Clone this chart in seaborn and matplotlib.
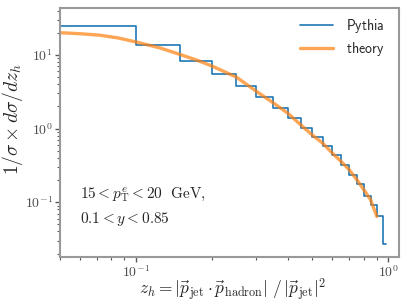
import matplotlib
matplotlib.use("Agg")
import matplotlib.pyplot as plt
from matplotlib.ticker import FuncFormatter
import numpy as np
import seaborn as sns

# Pythia histogram: bin edges and per-bin values
bin_edges = [0.05, 0.1, 0.15, 0.2, 0.25, 0.3, 0.35, 0.4, 0.45, 0.5,
             0.55, 0.6, 0.65, 0.7, 0.75, 0.8, 0.85, 0.9, 0.95, 0.975]
pythia = [25.0, 13.8, 8.35, 5.58, 3.75, 2.69, 1.89, 1.40, 1.02, 0.776,
          0.58, 0.435, 0.321, 0.231, 0.177, 0.123, 0.0918, 0.0643, 0.0273]

# theory curve
z_theory = [0.05, 0.06, 0.072, 0.085, 0.1, 0.125, 0.15, 0.175, 0.2, 0.25,
            0.3, 0.35, 0.4, 0.45, 0.5, 0.55, 0.6, 0.65, 0.7, 0.75, 0.8, 0.85, 0.9]
theory = [20.0, 19.4, 18.5, 17.0, 15.0, 12.4, 10.1, 8.45, 7.06, 5.0,
          3.2, 2.23, 1.61, 1.12, 0.815, 0.63, 0.463, 0.356, 0.275, 0.202, 0.147, 0.108, 0.064]

sns.set_style("ticks")
plt.rcParams["mathtext.fontset"] = "cm"
plt.rcParams["font.family"] = ["DejaVu Sans"]

fig, ax = plt.subplots(figsize=(4.07, 3.06), dpi=100)
ax.set_xscale("log")
ax.set_yscale("log")

sns.lineplot(x=bin_edges, y=np.append(pythia, pythia[-1]), drawstyle="steps-post",
             color="C0", lw=1.2, label=r"$\mathsf{Pythia}$", ax=ax)
sns.lineplot(x=z_theory, y=theory, color="C1", lw=2.4, alpha=0.7,
             label=r"$\mathsf{theory}$", ax=ax)

ax.set_xlim(0.05, 1.1)
ax.set_ylim(0.018, 43.8)

decade = FuncFormatter(lambda v, pos: r"$10^{%d}$" % round(np.log10(v)))
ax.xaxis.set_major_formatter(decade)
ax.yaxis.set_major_formatter(decade)

ax.set_xlabel(r"$z_h = |\vec{p}_{\rm jet} \cdot \vec{p}_{\rm hadron}|\ /\, |\vec{p}_{\rm jet}|^2$",
              fontsize=12.5)
ax.xaxis.set_label_coords(0.51, -0.078)
ax.set_ylabel(r"$1/\sigma \times d\sigma/dz_h$", fontsize=14)
ax.yaxis.set_label_coords(-0.103, 0.553)

ax.text(0.059, 0.237, r"$15 < p_{\rm T}^{e} < 20\ \ {\rm GeV},$", transform=ax.transAxes,
        fontsize=11, color="0.15")
ax.text(0.059, 0.136, r"$0.1 < y < 0.85$", transform=ax.transAxes, fontsize=11,
        color="0.15")

for side in ["top", "right", "left", "bottom"]:
    ax.spines[side].set_visible(True)
    ax.spines[side].set_color("0.6")
    ax.spines[side].set_linewidth(1.5)
ax.tick_params(which="both", colors="0.35", labelcolor="0.3", labelsize=10, pad=1.5)
ax.tick_params(which="major", length=3.5, width=1)
ax.tick_params(which="minor", length=2, width=0.8)

ax.legend(loc="upper right", bbox_to_anchor=(1.006, 1.028), frameon=False, fontsize=10,
          handlelength=2.4, handletextpad=0.9, labelspacing=0.35, borderaxespad=0.8)

fig.subplots_adjust(left=0.147, right=0.980, top=0.975, bottom=0.160)
fig.savefig("out.png", dpi=100)
